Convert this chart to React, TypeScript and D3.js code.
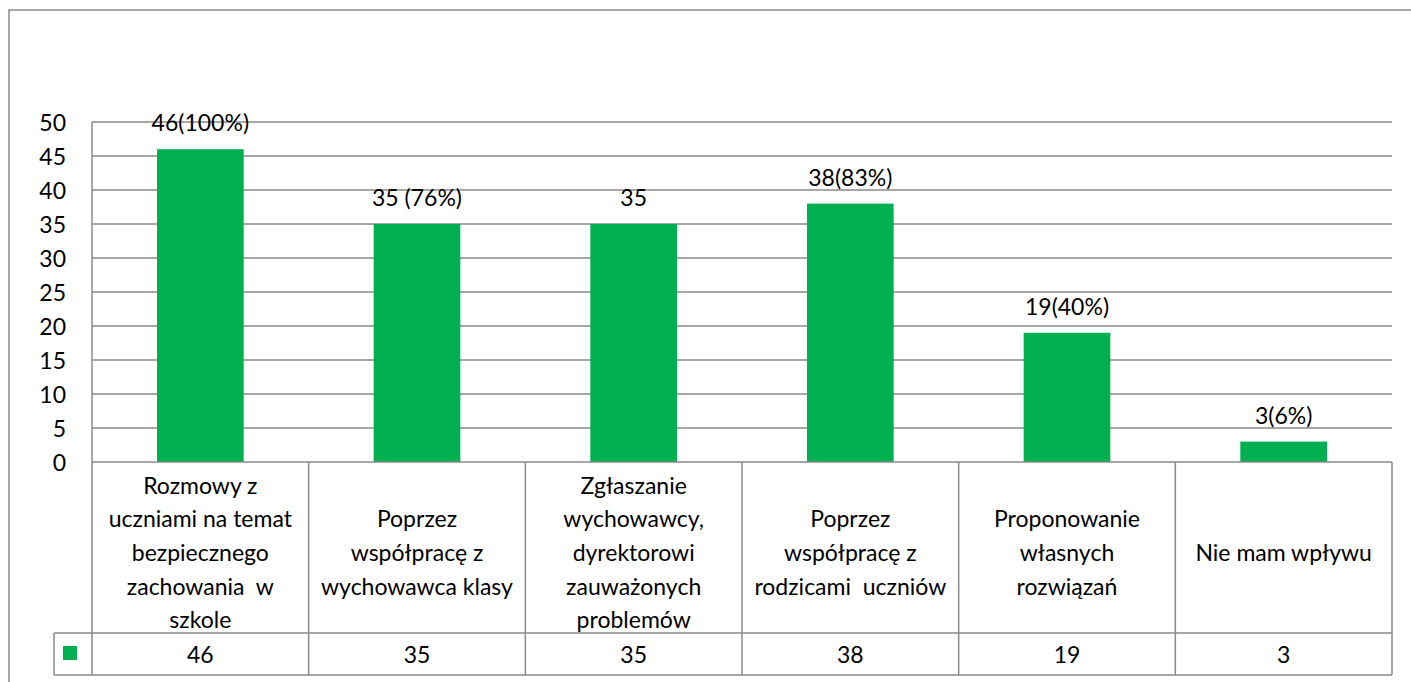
import React from "react";
import * as d3 from "d3";

const categories: string[][] = [
  ["Rozmowy z", "uczniami na temat", "bezpiecznego", "zachowania  w", "szkole"],
  ["Poprzez", "współpracę z", "wychowawca klasy"],
  ["Zgłaszanie", "wychowawcy,", "dyrektorowi", "zauważonych", "problemów"],
  ["Poprzez", "współpracę z", "rodzicami  uczniów"],
  ["Proponowanie", "własnych", "rozwiązań"],
  ["Nie mam wpływu"],
];
const values: number[] = [46, 35, 35, 38, 19, 3];
const dataLabels: string[] = ["46(100%)", "35 (76%)", "35", "38(83%)", "19(40%)", "3(6%)"];
const yTicks: number[] = [0, 5, 10, 15, 20, 25, 30, 35, 40, 45, 50];

const W = 1411;
const H = 682;
const plotLeft = 92;
const plotRight = 1392;
const plotTop = 122;
const plotBottom = 462;
const catRowBottom = 633;
const valRowBottom = 675;
const legendLeft = 54;
const GREEN = "#00B050";
const LINE = "#8a8a8a";
const FONT = "Lato, 'Open Sans', sans-serif";
const FS = 23;
const LH = 33.6;

export default function App() {
  const keys = categories.map((_, i) => String(i));
  const y = d3.scaleLinear().domain([0, 50]).range([plotBottom, plotTop]);
  const xCell = d3.scaleBand<string>().domain(keys).range([plotLeft, plotRight]).padding(0);
  const xBar = d3
    .scaleBand<string>()
    .domain(keys)
    .range([plotLeft, plotRight])
    .paddingInner(0.6)
    .paddingOuter(0.3);
  const catMid = (catRowBottom + plotBottom) / 2 + 4.5;
  const valMid = (catRowBottom + valRowBottom) / 2;

  return (
    <svg
      width={W}
      height={H}
      style={{ position: "absolute", left: 0, top: 0, background: "#fff" }}
      fontFamily={FONT}
    >
      {/* outer border */}
      <rect x={9} y={10} width={W + 20} height={H + 20} fill="none" stroke={LINE} strokeWidth={1.5} />

      {/* gridlines */}
      {yTicks
        .filter((t) => t > 0)
        .map((t) => (
          <line
            key={"g" + t}
            x1={plotLeft}
            x2={plotRight}
            y1={y(t)}
            y2={y(t)}
            stroke={LINE}
            strokeWidth={1.5}
          />
        ))}

      {/* y tick labels */}
      {yTicks.map((t) => (
        <text
          key={"t" + t}
          x={66}
          y={y(t)}
          textAnchor="end"
          dominantBaseline="central"
          fontSize={FS}
          fill="#000"
        >
          {t}
        </text>
      ))}

      {/* bars */}
      {values.map((v, i) => (
        <rect
          key={"b" + i}
          x={xBar(keys[i])!}
          y={y(v)}
          width={xBar.bandwidth()}
          height={y(0) - y(v)}
          fill={GREEN}
        />
      ))}

      {/* data labels */}
      {values.map((v, i) => (
        <text
          key={"l" + i}
          x={xCell(keys[i])! + xCell.bandwidth() / 2}
          y={y(v) - 27}
          textAnchor="middle"
          dominantBaseline="central"
          fontSize={FS}
          fill="#000"
          style={{ whiteSpace: "pre" }}
        >
          {dataLabels[i]}
        </text>
      ))}

      {/* table lines */}
      <line x1={plotLeft} x2={plotLeft} y1={plotTop} y2={valRowBottom} stroke={LINE} strokeWidth={1.5} />
      <line x1={plotLeft} x2={plotRight} y1={plotBottom} y2={plotBottom} stroke={LINE} strokeWidth={1.5} />
      <line x1={legendLeft} x2={plotRight} y1={catRowBottom} y2={catRowBottom} stroke={LINE} strokeWidth={1.5} />
      <line x1={legendLeft} x2={plotRight} y1={valRowBottom} y2={valRowBottom} stroke={LINE} strokeWidth={1.5} />
      <line x1={legendLeft} x2={legendLeft} y1={catRowBottom} y2={valRowBottom} stroke={LINE} strokeWidth={1.5} />
      {keys.map((k) => (
        <line
          key={"v" + k}
          x1={xCell(k)! + xCell.bandwidth()}
          x2={xCell(k)! + xCell.bandwidth()}
          y1={plotBottom}
          y2={valRowBottom}
          stroke={LINE}
          strokeWidth={1.5}
        />
      ))}

      {/* category labels */}
      {categories.map((lines, i) => (
        <text
          key={"c" + i}
          textAnchor="middle"
          fontSize={FS}
          fill="#000"
          style={{ whiteSpace: "pre" }}
        >
          {lines.map((ln, j) => (
            <tspan
              key={j}
              x={xCell(keys[i])! + xCell.bandwidth() / 2}
              y={catMid + (j - (lines.length - 1) / 2) * LH}
              dominantBaseline="central"
            >
              {ln}
            </tspan>
          ))}
        </text>
      ))}

      {/* legend key */}
      <rect x={63} y={646} width={14} height={14} fill={GREEN} />

      {/* value row */}
      {values.map((v, i) => (
        <text
          key={"vr" + i}
          x={xCell(keys[i])! + xCell.bandwidth() / 2}
          y={valMid}
          textAnchor="middle"
          dominantBaseline="central"
          fontSize={FS}
          fill="#000"
        >
          {v}
        </text>
      ))}
    </svg>
  );
}
